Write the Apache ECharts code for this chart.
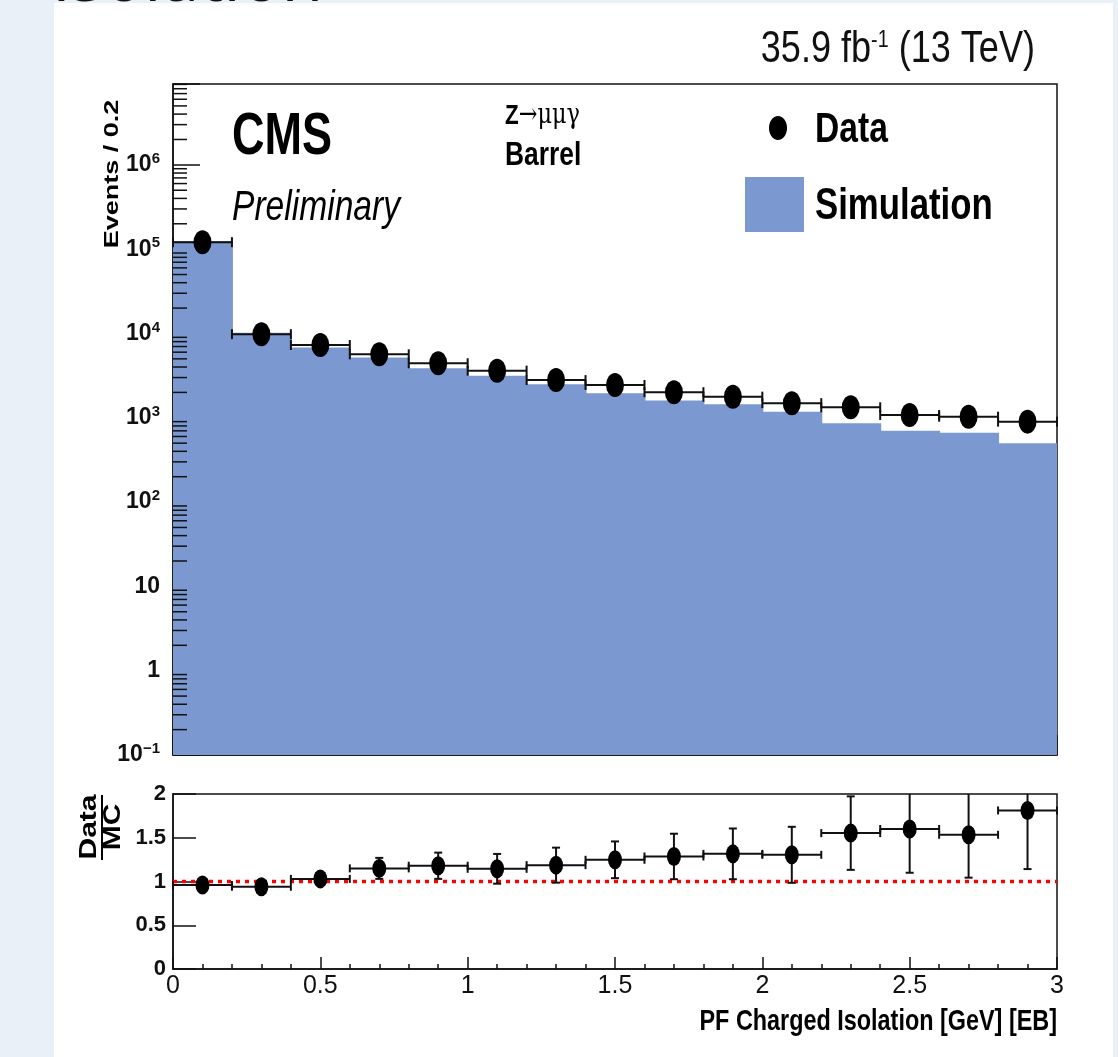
<!DOCTYPE html>
<html><head><meta charset="utf-8">
<script src="https://cdn.jsdelivr.net/npm/echarts@6/dist/echarts.min.js"></script>
<style>html,body{margin:0;padding:0;background:#e9f0f8;} #c{width:1118px;height:1057px;}</style>
</head><body><div id="c"></div>
<script>
// ---------- data ----------
const binEdges   = [0, 0.2, 0.4, 0.6, 0.8, 1.0, 1.2, 1.4, 1.6, 1.8, 2.0, 2.2, 2.4, 2.6, 2.8, 3.0];
const binCenters = [0.1, 0.3, 0.5, 0.7, 0.9, 1.1, 1.3, 1.5, 1.7, 1.9, 2.1, 2.3, 2.5, 2.7, 2.9];
const simulation = [125000, 10200, 6800, 5200, 3870, 3160, 2490, 1950, 1600, 1450, 1180, 861, 703, 666, 498];
const dataCounts = [121000, 9800, 7300, 5660, 4430, 3620, 2800, 2450, 2010, 1780, 1490, 1330, 1080, 1030, 900];
const ratio      = [0.96, 0.94, 1.03, 1.15, 1.18, 1.145, 1.187, 1.248, 1.286, 1.316, 1.305, 1.553, 1.60, 1.534, 1.812];
const ratioErr   = [0.03, 0.03, 0.05, 0.12, 0.15, 0.17, 0.20, 0.21, 0.26, 0.29, 0.32, 0.42, 0.50, 0.49, 0.67];
const upperTickExponents = [-1, 0, 1, 2, 3, 4, 5, 6];
const upperTickLabels = ['10{sup|−1}', '1', '10', '10{sup|2}', '10{sup|3}', '10{sup|4}', '10{sup|5}', '10{sup|6}'];
const ratioTickLabels = ['0', '0.5', '1', '1.5', '2'];
const xTickLabels = ['0', '0.5', '1', '1.5', '2', '2.5', '3'];

// ---------- styling ----------
const SIM_COLOR = '#7b99d0';
const HELV = "'Liberation Sans',Arial,sans-serif";
const SQ = 0.78; // horizontal squash of the original picture

const chart = echarts.init(document.getElementById('c'));

// minor tick positions for the log axis (2..9 per decade)
const minorLog = [];
for (let k = -1; k <= 6; k++) for (let m = 2; m <= 9; m++) { const v = m * Math.pow(10, k); if (v < 9.1e6) minorLog.push([0, v]); }

function upperLabel(v) {
  const e = Math.log10(v);
  const r = Math.round(e);
  if (Math.abs(e - r) > 1e-6) return '';
  const i = upperTickExponents.indexOf(r);
  return i >= 0 ? upperTickLabels[i] : '';
}
function fmtFrom(list) {
  return function (v) {
    for (const s of list) if (Math.abs(parseFloat(s) - v) < 1e-6) return s;
    return '';
  };
}

const option = {
  backgroundColor: 'transparent',
  animation: false,
  grid: [
    { left: 173, top: 84, width: 884, height: 671, show: true, borderColor: '#111', borderWidth: 1.5, backgroundColor: 'transparent', containLabel: false, outerBoundsMode: 'none' },
    { left: 173, top: 794, width: 884, height: 175, show: true, borderColor: '#111', borderWidth: 1.5, backgroundColor: 'transparent', containLabel: false, outerBoundsMode: 'none' }
  ],
  xAxis: [
    { type: 'value', gridIndex: 0, min: 0, max: 3, interval: 0.5,
      axisLine: { show: true, onZero: false, lineStyle: { color: '#111', width: 1.5 } },
      axisTick: { show: true, inside: true, length: 20, lineStyle: { color: '#111', width: 1.5 } },
      minorTick: { show: true, splitNumber: 5, length: 9, lineStyle: { color: '#111', width: 1.5 } },
      axisLabel: { show: false }, splitLine: { show: false } },
    { type: 'value', gridIndex: 1, min: 0, max: 3, interval: 0.5,
      axisLine: { show: true, onZero: false, lineStyle: { color: '#111', width: 1.5 } },
      axisTick: { show: true, inside: true, length: 12, lineStyle: { color: '#111', width: 1.5 } },
      minorTick: { show: true, splitNumber: 5, length: 5, lineStyle: { color: '#111', width: 1.5 } },
      axisLabel: { show: true, margin: 5, color: '#111', fontFamily: HELV, fontSize: 25, formatter: fmtFrom(xTickLabels), showMinLabel: true, showMaxLabel: true },
      splitLine: { show: false } }
  ],
  yAxis: [
    { type: 'log', gridIndex: 0, logBase: 10, min: 0.1, max: 9.1e6, interval: 1,
      axisLine: { show: true, lineStyle: { color: '#111', width: 1.5 } },
      axisTick: { show: true, inside: true, length: 27, lineStyle: { color: '#111', width: 1.5 } },
      axisLabel: { show: true, margin: 13, color: '#111', fontFamily: HELV, fontWeight: 'bold', fontSize: 23, formatter: upperLabel,
        rich: { sup: { fontFamily: HELV, fontWeight: 'bold', fontSize: 15, color: '#111', padding: [0, 0, 12, 0] } } },
      splitLine: { show: false } },
    { type: 'value', gridIndex: 1, min: 0, max: 2, interval: 0.5,
      axisLine: { show: true, lineStyle: { color: '#111', width: 1.5 } },
      axisTick: { show: true, inside: true, length: 23, lineStyle: { color: '#111', width: 1.5 } },
      axisLabel: { show: true, margin: 7, color: '#111', fontFamily: HELV, fontWeight: 'bold', fontSize: 22, formatter: fmtFrom(ratioTickLabels) },
      splitLine: { show: false } }
  ],
  series: [
    // simulation histogram
    { type: 'custom', xAxisIndex: 0, yAxisIndex: 0, silent: true, z: 1,
      data: simulation.map((s, i) => [binEdges[i], binEdges[i + 1], s]),
      encode: { x: [0, 1], y: 2 },
      renderItem: function (params, api) {
        const p0 = api.coord([api.value(0), api.value(2)]);
        const p1 = api.coord([api.value(1), 0.1]);
        const extra = params.dataIndex < simulation.length - 1 ? 1 : 0;
        return { type: 'rect', shape: { x: p0[0], y: p0[1], width: p1[0] - p0[0] + extra, height: p1[1] - p0[1] }, style: { fill: SIM_COLOR } };
      } },
    // minor ticks on log axis
    { type: 'custom', xAxisIndex: 0, yAxisIndex: 0, silent: true, z: 6, data: minorLog, encode: { x: 0, y: 1 },
      renderItem: function (params, api) {
        const p = api.coord([0, api.value(1)]);
        return { type: 'line', shape: { x1: p[0], y1: p[1], x2: p[0] + 14, y2: p[1] }, style: { stroke: '#111', lineWidth: 1.5 } };
      } },
    // data horizontal error bars
    { type: 'custom', xAxisIndex: 0, yAxisIndex: 0, silent: true, z: 4,
      data: dataCounts.map((d, i) => [binEdges[i], binEdges[i + 1], d]),
      encode: { x: [0, 1], y: 2 },
      renderItem: function (params, api) {
        const a = api.coord([api.value(0), api.value(2)]);
        const b = api.coord([api.value(1), api.value(2)]);
        const st = { stroke: '#111', lineWidth: 2 };
        return { type: 'group', children: [
          { type: 'line', shape: { x1: a[0], y1: a[1], x2: b[0], y2: b[1] }, style: st },
          { type: 'line', shape: { x1: a[0], y1: a[1] - 5, x2: a[0], y2: a[1] + 5 }, style: st },
          { type: 'line', shape: { x1: b[0], y1: b[1] - 5, x2: b[0], y2: b[1] + 5 }, style: st }
        ] };
      } },
    { type: 'scatter', xAxisIndex: 0, yAxisIndex: 0, z: 5, symbol: 'circle', symbolSize: [18, 24],
      itemStyle: { color: '#000', opacity: 1 }, data: dataCounts.map((d, i) => [binCenters[i], d]) },
    // ratio reference line
    { type: 'line', xAxisIndex: 1, yAxisIndex: 1, z: 3, symbol: 'none', silent: true,
      lineStyle: { color: '#ff0000', width: 3.5, type: [4, 5] }, data: [[0, 1], [3, 1]] },
    // ratio error bars
    { type: 'custom', xAxisIndex: 1, yAxisIndex: 1, silent: true, z: 4,
      data: ratio.map((r, i) => [binEdges[i], binEdges[i + 1], binCenters[i], r, ratioErr[i]]),
      encode: { x: [0, 1, 2], y: 3 },
      renderItem: function (params, api) {
        const x0 = api.value(0), x1 = api.value(1), xc = api.value(2), r = api.value(3), e = api.value(4);
        const a = api.coord([x0, r]), b = api.coord([x1, r]);
        const hi = Math.min(r + e, 2), lo = Math.max(r - e, 0);
        const t = api.coord([xc, hi]), d = api.coord([xc, lo]);
        const st = { stroke: '#111', lineWidth: 2 };
        const ch = [
          { type: 'line', shape: { x1: a[0], y1: a[1], x2: b[0], y2: b[1] }, style: st },
          { type: 'line', shape: { x1: a[0], y1: a[1] - 4, x2: a[0], y2: a[1] + 4 }, style: st },
          { type: 'line', shape: { x1: b[0], y1: b[1] - 4, x2: b[0], y2: b[1] + 4 }, style: st },
          { type: 'line', shape: { x1: t[0], y1: t[1], x2: d[0], y2: d[1] }, style: st },
          { type: 'line', shape: { x1: d[0] - 4, y1: d[1], x2: d[0] + 4, y2: d[1] }, style: st }
        ];
        if (r + e < 2) ch.push({ type: 'line', shape: { x1: t[0] - 4, y1: t[1], x2: t[0] + 4, y2: t[1] }, style: st });
        return { type: 'group', children: ch };
      } },
    { type: 'scatter', xAxisIndex: 1, yAxisIndex: 1, z: 5, symbol: 'circle', symbolSize: [14, 19],
      itemStyle: { color: '#000', opacity: 1 }, data: ratio.map((r, i) => [binCenters[i], r]) }
  ],
  graphic: [
    { type: 'text', z: -2, z2: 0, x: 52, y: 16, style: { text: 'Isolation', font: "68px 'Open Sans', sans-serif", fill: '#111', verticalAlign: 'bottom' } },
    { type: 'rect', z: -2, z2: 10, shape: { x: 54, y: 3, width: 1059, height: 1060 }, style: { fill: '#ffffff' } },
    { type: 'text', x: 1035, y: 50, scaleX: 0.82, style: { text: '35.9 fb{sup|-1} (13 TeV)', font: "44px " + HELV, fill: '#111', align: 'right', verticalAlign: 'middle',
        rich: { sup: { font: "24px " + HELV, fill: '#111', padding: [0, 0, 20, 0] } } } },
    { type: 'text', x: 232, y: 137, scaleX: 0.75, style: { text: 'CMS', font: "bold 60px " + HELV, fill: '#000', verticalAlign: 'middle' } },
    { type: 'text', x: 232, y: 208, scaleX: 0.8, style: { text: 'Preliminary', font: "italic 42px " + HELV, fill: '#000', verticalAlign: 'middle' } },
    { type: 'text', x: 505, y: 116, scaleX: 0.8, style: { text: '{b|Z}{n|→μμγ}', verticalAlign: 'middle',
        rich: { b: { font: "bold 28px " + HELV, fill: '#000' }, n: { font: "28px 'DejaVu Serif', serif", fill: '#000' } } } },
    { type: 'text', x: 505, y: 156, scaleX: 0.8, style: { text: 'Barrel', font: "bold 33px " + HELV, fill: '#000', verticalAlign: 'middle' } },
    // legend
    { type: 'ellipse', shape: { cx: 778, cy: 128, rx: 9, ry: 12 }, style: { fill: '#000' } },
    { type: 'text', x: 815, y: 130, scaleX: 0.8, style: { text: 'Data', font: "bold 42px " + HELV, fill: '#000', verticalAlign: 'middle' } },
    { type: 'rect', shape: { x: 745, y: 177, width: 59, height: 55 }, style: { fill: SIM_COLOR } },
    { type: 'text', x: 815, y: 207, scaleX: 0.79, style: { text: 'Simulation', font: "bold 44px " + HELV, fill: '#000', verticalAlign: 'middle' } },
    // axis titles
    { type: 'text', x: 112, y: 174, rotation: Math.PI / 2, scaleY: SQ, style: { text: 'Events / 0.2', font: "bold 27px " + HELV, fill: '#000', align: 'center', verticalAlign: 'middle' } },
    { type: 'text', x: 1057, y: 1022, scaleX: SQ, style: { text: 'PF Charged Isolation [GeV] [EB]', font: "bold 30px " + HELV, fill: '#000', align: 'right', verticalAlign: 'middle' } },
    { type: 'text', x: 90, y: 827, rotation: Math.PI / 2, scaleY: SQ, style: { text: 'Data', font: "bold 30px " + HELV, fill: '#000', align: 'center', verticalAlign: 'middle' } },
    { type: 'line', shape: { x1: 102, y1: 795, x2: 102, y2: 860 }, style: { stroke: '#000', lineWidth: 2 } },
    { type: 'text', x: 114, y: 827, rotation: Math.PI / 2, scaleY: SQ, style: { text: 'MC', font: "bold 30px " + HELV, fill: '#000', align: 'center', verticalAlign: 'middle' } }
  ]
};
chart.setOption(option);
</script>
</body></html>
